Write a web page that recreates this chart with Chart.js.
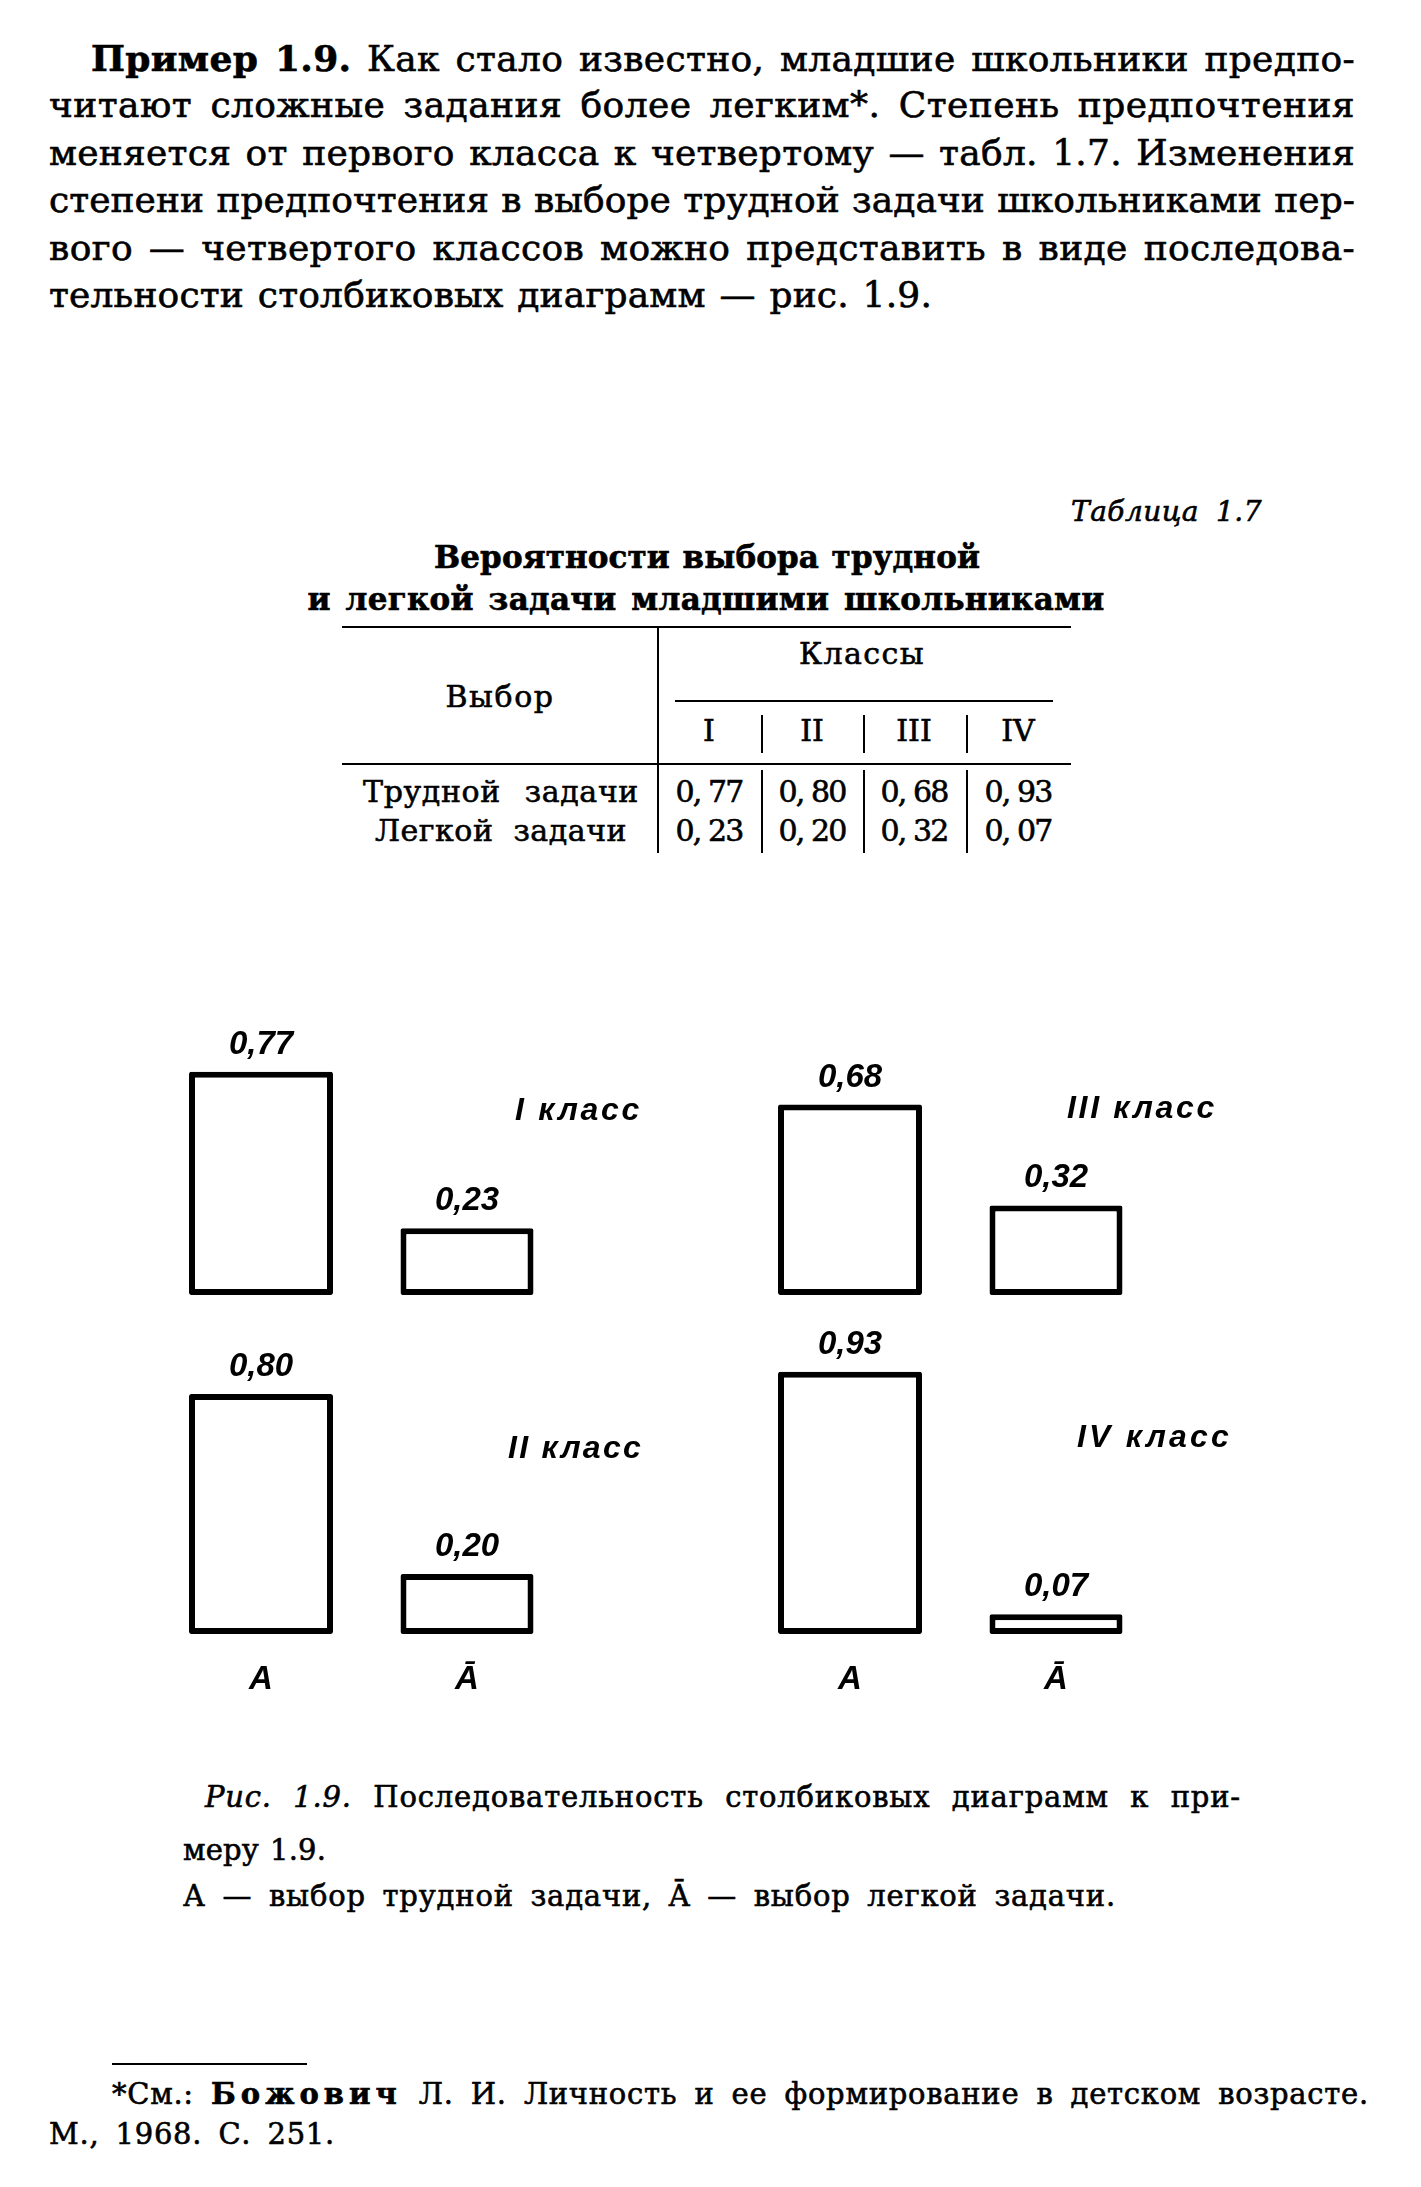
<!DOCTYPE html>
<html><head><meta charset="utf-8">
<script src="https://cdn.jsdelivr.net/npm/chart.js@4.4.1/dist/chart.umd.min.js"></script>
<style>
html,body{margin:0;padding:0;background:#fff;}
#page{position:relative;width:1421px;height:2187px;overflow:hidden;background:#fff;color:#000;}
.t{position:absolute;white-space:nowrap;line-height:1;}
.s{-webkit-text-stroke:0.6px #000;}
.rule{position:absolute;background:#000;}
canvas{position:absolute;}
</style></head><body><div id="page"></div>
<script>
// ---------- data ----------
const classes = ['I', 'II', 'III', 'IV'];
const choiceLabels = ['A', 'Ā'];
const hardTask = [0.77, 0.80, 0.68, 0.93];
const easyTask = [0.23, 0.20, 0.32, 0.07];
const rowNames = ['Трудной задачи', 'Легкой задачи'];

const SERIF = '"DejaVu Serif", serif';
const SANS = '"Liberation Sans", Arial, sans-serif';
const page = document.getElementById('page');

function T(html, o) {
  const el = document.createElement('div');
  el.className = 't' + (o.family === SANS ? '' : ' s');
  el.innerHTML = html;
  const size = o.size;
  el.style.fontFamily = o.family || SERIF;
  el.style.fontSize = size + 'px';
  el.style.fontWeight = o.bold ? 'bold' : 'normal';
  el.style.fontStyle = o.italic ? 'italic' : 'normal';
  page.appendChild(el);
  let w = el.getBoundingClientRect().width;
  if (o.width) {
    const txt = el.textContent;
    const n = txt.length;
    const sp = (txt.match(/ /g) || []).length;
    const diff = o.width - w;
    if (sp > 0 && !o.lettersOnly) {
      const share = diff > 0 ? 0.6 : 0.3;
      el.style.wordSpacing = (diff * share / sp) + 'px';
      el.style.letterSpacing = (diff * (1 - share) / n) + 'px';
    } else {
      el.style.letterSpacing = (diff / n) + 'px';
    }
    w = el.getBoundingClientRect().width;
  }
  el.style.top = (o.base - 0.846 * size) + 'px';
  let left = o.x;
  if (o.align === 'center') left = o.x - w / 2;
  if (o.align === 'right') left = o.x - w;
  el.style.left = left + 'px';
  return el;
}
function R(x, y, w, h) {
  const r = document.createElement('div');
  r.className = 'rule';
  r.style.left = x + 'px'; r.style.top = y + 'px';
  r.style.width = w + 'px'; r.style.height = h + 'px';
  page.appendChild(r);
}

// ---------- paragraph ----------
const P = 36;
T('<b>Пример 1.9.</b> Как стало известно, младшие школьники предпо-', {x:91, width:1264, base:70, size:P});
T('читают сложные задания более легким*. Степень предпочтения', {x:49, width:1306, base:117, size:P});
T('меняется от первого класса к четвертому — табл. 1.7. Изменения', {x:49, width:1306, base:165, size:P});
T('степени предпочтения в выборе трудной задачи школьниками пер-', {x:49, width:1306, base:212, size:P});
T('вого — четвертого классов можно представить в виде последова-', {x:49, width:1306, base:260, size:P});
T('тельности столбиковых диаграмм — рис. 1.9.', {x:49, width:883, base:307, size:P});

// ---------- table ----------
T('Таблица 1.7', {x:1071, width:191, base:522, size:28, italic:true});
T('Вероятности выбора трудной', {x:707, align:'center', width:546, base:568, size:31, bold:true});
T('и легкой задачи младшими школьниками', {x:706, align:'center', width:797, base:610, size:31, bold:true});
R(342, 626, 729, 2);
R(657, 627, 2, 226);
T('Классы', {x:862, align:'center', width:126, base:664, size:30});
R(675, 700, 378, 2);
T('Выбор', {x:500, align:'center', width:109, base:707, size:30});
const colX = [709, 812, 914, 1018];
classes.forEach((c, i) => T(c, {x:colX[i], align:'center', base:741, size:30}));
[761, 863, 966].forEach(x => { R(x, 715, 2, 38); R(x, 770, 2, 83); });
R(342, 763, 729, 2);
rowNames.forEach((n, r) => T(n, {x:501, align:'center', width: r === 0 ? 276 : 252, base: r === 0 ? 802 : 841, size:30}));
[hardTask, easyTask].forEach((arr, r) => arr.forEach((v, i) =>
  T(v.toFixed(2).replace('.', ', '), {x:colX[i], align:'center', width:67, base: r === 0 ? 802 : 841, size:30, lettersOnly:true})));

// ---------- charts ----------
const fmt = v => v.toFixed(2).replace('.', ',');
const LABEL_FONT = 'italic bold 33px "Liberation Sans"';
const valuePlugin = {
  id: 'barValues',
  afterDatasetsDraw(chart) {
    const ctx = chart.ctx;
    ctx.save();
    ctx.font = LABEL_FONT;
    ctx.fillStyle = '#000';
    ctx.textAlign = 'center';
    ctx.textBaseline = 'alphabetic';
    chart.data.datasets.forEach((ds, di) => {
      chart.getDatasetMeta(di).data.forEach((el, i) => {
        const v = ds.data[i];
        if (v == null) return;
        ctx.fillText(fmt(v), el.x, el.y - 18);
      });
    });
    ctx.restore();
  }
};
const catPlugin = {
  id: 'catLabels',
  afterDraw(chart, args, opts) {
    if (!opts.show) return;
    const ctx = chart.ctx;
    ctx.save();
    ctx.font = LABEL_FONT;
    ctx.fillStyle = '#000';
    ctx.textAlign = 'center';
    ctx.textBaseline = 'alphabetic';
    chart.data.labels.forEach((l, i) => {
      ctx.fillText(l, chart.scales.x.getPixelForValue(i), chart.chartArea.bottom + 55);
    });
    ctx.restore();
  }
};

const AREA_W = 412;
const PAD = {left: 20, right: 20, top: 60, bottom: 75};
const panels = [
  {idx: 0, left: 158, bottom: 1295, ppu: 290, cats: false},
  {idx: 1, left: 158, bottom: 1634, ppu: 300, cats: true},
  {idx: 2, left: 747, bottom: 1295, ppu: 280, cats: false},
  {idx: 3, left: 747, bottom: 1634, ppu: 282, cats: true}
];
const barStyle = {backgroundColor: '#fff', borderColor: '#000', borderWidth: 6, borderSkipped: false, borderRadius: 2, categoryPercentage: 1};

panels.forEach(p => {
  const cv = document.createElement('canvas');
  const W = AREA_W + PAD.left + PAD.right, H = p.ppu + PAD.top + PAD.bottom;
  cv.width = W; cv.height = H;
  cv.style.width = W + 'px'; cv.style.height = H + 'px';
  cv.style.left = (p.left - PAD.left) + 'px';
  cv.style.top = (p.bottom - p.ppu - PAD.top) + 'px';
  page.appendChild(cv);
  new Chart(cv, {
    type: 'bar',
    data: {
      labels: choiceLabels,
      datasets: [
        Object.assign({data: [hardTask[p.idx], null], barPercentage: 144 / 206}, barStyle),
        Object.assign({data: [null, easyTask[p.idx]], barPercentage: 133 / 206}, barStyle)
      ]
    },
    options: {
      responsive: false, animation: false, devicePixelRatio: 1,
      layout: {padding: PAD},
      scales: {
        x: {display: false, stacked: true},
        y: {display: false, stacked: true, min: 0, max: 1}
      },
      plugins: {legend: {display: false}, tooltip: {enabled: false}, catLabels: {show: p.cats}}
    },
    plugins: [valuePlugin, catPlugin]
  });
});

// class labels
const classPos = [
  {x: 515, base: 1120, w: 127},
  {x: 508, base: 1458, w: 135},
  {x: 1067, base: 1118, w: 150},
  {x: 1077, base: 1447, w: 155}
];
classes.forEach((c, i) => T(c + ' класс', {x: classPos[i].x, width: classPos[i].w, base: classPos[i].base, size: 32, family: SANS, bold: true, italic: true, lettersOnly: true}));

// ---------- caption ----------
T('<i>Рис. 1.9.</i> Последовательность столбиковых диаграмм к при-', {x:205, width:1036, base:1808, size:29});
T('меру 1.9.', {x:183, width:143, base:1861, size:29});
T('А — выбор трудной задачи, Ā — выбор легкой задачи.', {x:183, width:933, base:1907, size:29});

// ---------- footnote ----------
R(112, 2063, 195, 2);
T('*См.: <b style="letter-spacing:5px">Божович</b> Л. И. Личность и ее формирование в детском возрасте.', {x:112, width:1262, base:2105, size:29});
T('М., 1968. С. 251.', {x:49, width:286, base:2145, size:29});
</script>
</body></html>
